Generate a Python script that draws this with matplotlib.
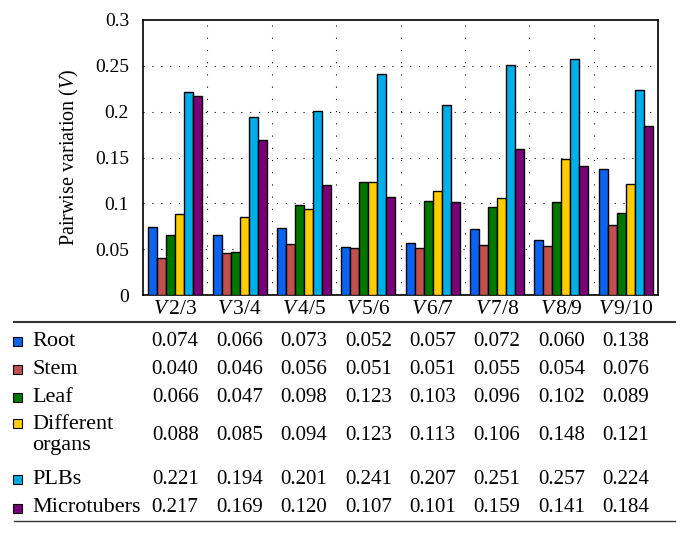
import numpy as np
import matplotlib.pyplot as plt
import matplotlib.transforms as mtransforms
from matplotlib.patches import Rectangle

plt.rcParams['font.family'] = ['Liberation Serif', 'DejaVu Serif']
plt.rcParams['mathtext.fontset'] = 'custom'
plt.rcParams['mathtext.rm'] = 'Liberation Serif'
plt.rcParams['mathtext.it'] = 'Liberation Serif:italic'

# =========================== DATA =========================================
groups = ['2/3', '3/4', '4/5', '5/6', '6/7', '7/8', '8/9', '9/10']
series = ['Root', 'Stem', 'Leaf', 'Different\norgans', 'PLBs', 'Microtubers']
root        = [0.074, 0.066, 0.073, 0.052, 0.057, 0.072, 0.060, 0.138]
stem        = [0.040, 0.046, 0.056, 0.051, 0.051, 0.055, 0.054, 0.076]
leaf        = [0.066, 0.047, 0.098, 0.123, 0.103, 0.096, 0.102, 0.089]
organs      = [0.088, 0.085, 0.094, 0.123, 0.113, 0.106, 0.148, 0.121]
plbs        = [0.221, 0.194, 0.201, 0.241, 0.207, 0.251, 0.257, 0.224]
microtubers = [0.217, 0.169, 0.120, 0.107, 0.101, 0.159, 0.141, 0.184]
values = [root, stem, leaf, organs, plbs, microtubers]
colors = ['#0a64f0', '#c0504d', '#007800', '#ffcc00', '#00aeea', '#7a0078']

# =========================== PLOT =========================================
fig = plt.figure(figsize=(6.89, 5.36), dpi=100)
ax = fig.add_axes([143 / 689, 1 - 295 / 536, 515 / 689, 275 / 536])

x = np.arange(len(groups))
w = 0.14
for i, (vals, c) in enumerate(zip(values, colors)):
    ax.bar(x + (i - 2.5) * w, vals, w, color=c, edgecolor='black', linewidth=1.0, zorder=3)

ax.set_xlim(-0.5, len(groups) - 0.5)
ax.set_ylim(0, 0.3)
ax.set_yticks([0, 0.05, 0.1, 0.15, 0.2, 0.25, 0.3])
ax.set_yticklabels(['0', '0.05', '0.1', '0.15', '0.2', '0.25', '0.3'], fontsize=14)
ax.set_xticks(x)
ax.set_xticklabels([])
ax.tick_params(length=0, pad=10)
ax.set_ylabel('Pairwise variation ($V$)', fontsize=14.5, labelpad=10)

# dotted grid: horizontal at ticks, vertical between groups
for yv in [0.05, 0.1, 0.15, 0.2, 0.25]:
    ax.axhline(yv, color='black', linestyle=(0, (1, 7)), linewidth=0.8, zorder=1)
for xv in np.arange(0.5, len(groups) - 0.5):
    ax.axvline(xv, color='black', linestyle=(0, (1, 10)), linewidth=0.8, zorder=1)
for s in ax.spines.values():
    s.set_linewidth(1.2)

# =========================== TABLE ========================================
trans = mtransforms.blended_transform_factory(ax.transData, fig.transFigure)
H = 536.0

for xi, g in zip(x, groups):
    fig.text(xi, 1 - 310 / H, '$V\\,$' + g, transform=trans, ha='center', va='center', fontsize=15.5)

fig.add_artist(plt.Line2D([14 / 689, 675 / 689], [1 - 322 / H, 1 - 322 / H], color='#333333', linewidth=1.5))
fig.add_artist(plt.Line2D([14 / 689, 675 / 689], [1 - 521 / H, 1 - 521 / H], color='#333333', linewidth=1.0))

row_y = [341, 369, 397, 435, 479, 508]
for name, vals, c, ry in zip(series, values, colors, row_y):
    ly = 1 - ry / H
    sq_y = 1 - (ry - 12 if '\n' in name else ry) / H
    fig.add_artist(Rectangle((13 / 689, sq_y - 4.5 / H), 9 / 689, 9 / H, transform=fig.transFigure,
                             facecolor=c, edgecolor='black', linewidth=0.8))
    fig.text(32 / 689, ly, name, ha='left', va='center', fontsize=16, linespacing=1.15)
    for xi, v in zip(x, vals):
        fig.text(xi, ly, f'{v:.3f}', transform=trans, ha='center', va='center', fontsize=15)

fig.savefig('out.png', dpi=100)
